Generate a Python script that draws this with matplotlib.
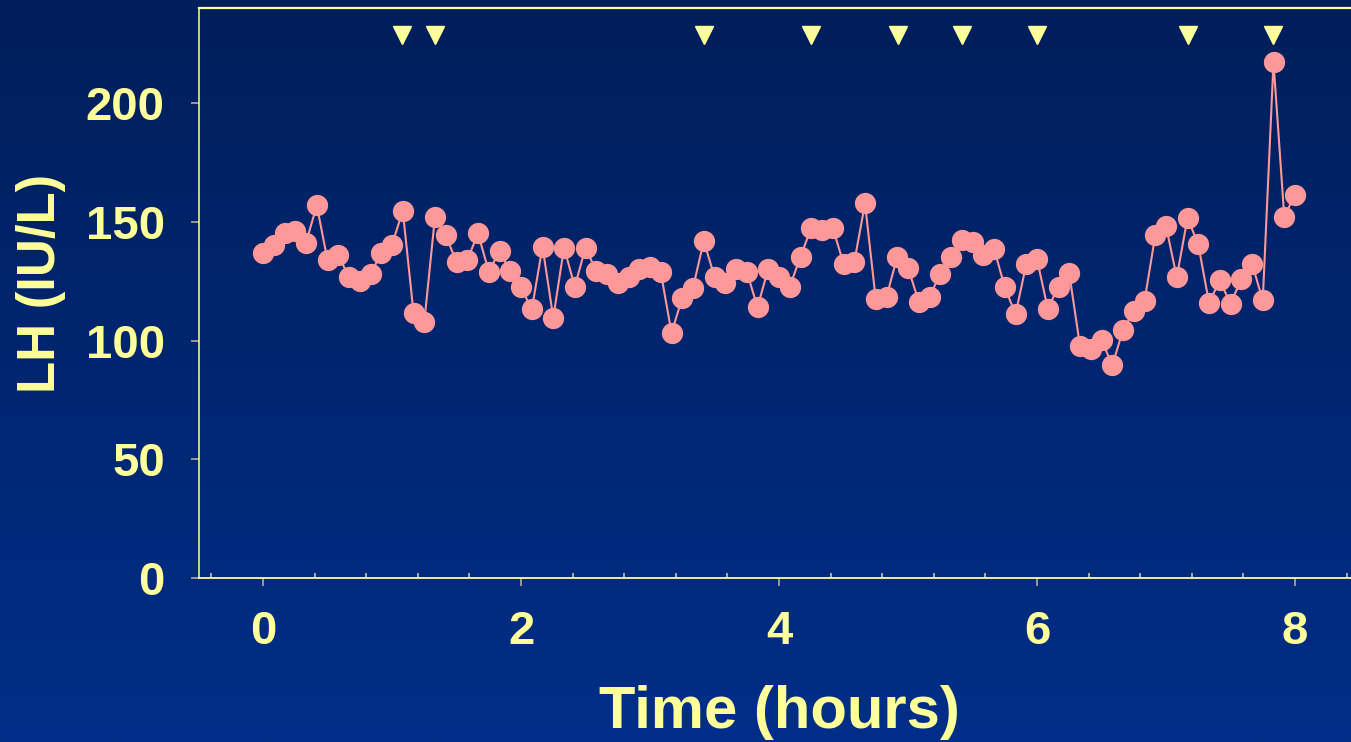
import numpy as np
import matplotlib
matplotlib.use("Agg")
import matplotlib.pyplot as plt
from matplotlib.ticker import MultipleLocator
from matplotlib.colors import LinearSegmentedColormap

plt.rcParams['font.family'] = ['Liberation Sans', 'DejaVu Sans']
plt.rcParams['font.weight'] = 'bold'

# samples every 5 minutes over 8 hours
minutes = np.arange(0, 485, 5)
hours = minutes / 60.0

lh = [136.7, 140.1, 145.1, 146.1, 141.2, 156.9, 133.8, 135.9, 126.7, 125.0,
      127.8, 137.0, 140.4, 154.6, 111.7, 107.7, 152.2, 144.3, 133.0, 133.8,
      145.1, 129.0, 137.6, 129.2, 122.4, 113.1, 139.5, 109.6, 139.1, 122.7,
      139.1, 129.2, 127.8, 124.1, 126.9, 130.0, 131.1, 128.8, 103.2, 118.0,
      122.2, 141.9, 126.9, 124.3, 130.0, 129.0, 114.0, 130.3, 126.9, 122.7,
      135.3, 147.5, 146.6, 147.5, 132.4, 133.0, 157.7, 117.3, 118.4, 135.3,
      130.7, 116.3, 118.4, 128.1, 135.1, 142.2, 141.5, 135.9, 138.7, 122.5,
      111.0, 132.1, 134.2, 113.4, 122.7, 128.3, 97.6, 96.6, 100.4, 89.5,
      104.4, 112.4, 116.6, 144.3, 148.2, 126.6, 151.6, 140.5, 115.9, 125.3,
      115.5, 125.7, 132.4, 116.9, 217.2, 152.2, 161.3]

# detected pulses (hours) shown as arrowheads on top
pulse_hours = [1.08, 1.33, 3.42, 4.25, 4.92, 5.42, 6.0, 7.17, 7.83]
pulse_level = 228.5

yellow = '#FFFF99'
pink = '#FF9999'

W, H = 1351, 742
fig = plt.figure(figsize=(W / 100, H / 100), dpi=100)

# gradient background
bg = fig.add_axes([0, 0, 1, 1], zorder=-10)
cmap = LinearSegmentedColormap.from_list('bg', [(0/255, 30/255, 90/255), (0/255, 46/255, 136/255)])
bg.imshow(np.linspace(0, 1, 256).reshape(-1, 1), aspect='auto', cmap=cmap, extent=[0, 1, 0, 1])
bg.axis('off')

x0, x1 = -0.494, 8.5
left_px, right_px = 199.3, 263 + 8.5 * 129
ax = fig.add_axes([left_px / W, (H - 578) / H, (right_px - left_px) / W, (578 - 8) / H])
ax.patch.set_alpha(0)

ax.plot(hours, lh, color=pink, lw=1.5, marker='o', ms=15.3, mfc=pink, mec=pink, mew=0)
ax.plot(pulse_hours, [pulse_level] * len(pulse_hours), linestyle='none',
        marker='v', ms=13, color=yellow, clip_on=False)

ax.set_xlim(x0, x1)
ax.set_ylim(0, 240)
ax.set_xticks([0, 2, 4, 6, 8])
ax.xaxis.set_minor_locator(MultipleLocator(0.4))
ax.set_yticks([0, 50, 100, 150, 200])

for s in ['left', 'bottom', 'top']:
    ax.spines[s].set_color(yellow)
ax.spines['left'].set_linewidth(1.1)
ax.spines['bottom'].set_linewidth(1.3)
ax.spines['top'].set_linewidth(1.6)
ax.spines['right'].set_visible(False)

ax.tick_params(axis='both', which='major', direction='out', length=5.8, width=1.1,
               color='#BDBD95', labelcolor=yellow, labelsize=34)
ax.tick_params(axis='x', which='major', pad=17)
ax.tick_params(axis='y', which='major', pad=19)
ax.tick_params(axis='x', which='minor', direction='in', length=3.6, width=1.1, color='#D8D89A')
for lab in ax.get_xticklabels() + ax.get_yticklabels():
    lab.set_fontweight('bold')

ax.set_xlabel('Time (hours)', fontsize=43, fontweight='bold', color=yellow, va='baseline')
ax.xaxis.set_label_coords((779 - left_px) / (right_px - left_px), (578 - 728) / 570)
ax.set_ylabel('LH (IU/L)', fontsize=38, fontweight='bold', color=yellow, va='baseline')
ax.yaxis.set_label_coords((55 - left_px) / (right_px - left_px), (578 - 283) / 570)

fig.savefig('out.png', dpi=100)
